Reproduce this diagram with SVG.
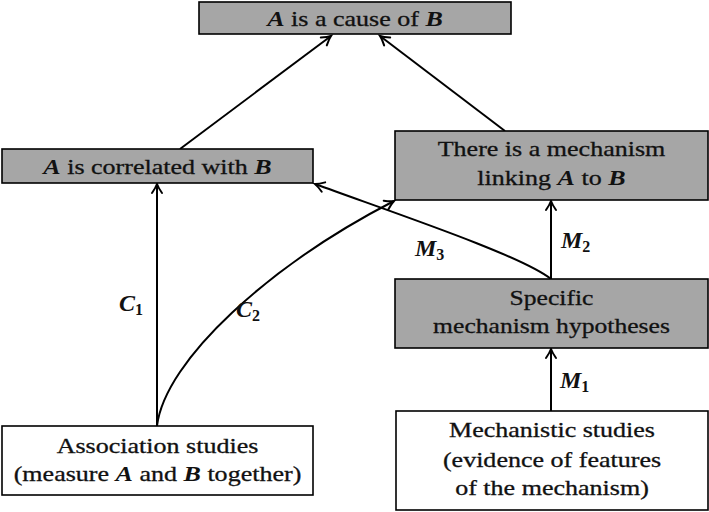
<svg xmlns="http://www.w3.org/2000/svg" width="709" height="512" viewBox="0 0 709 512">
<defs>
<style>
.box{stroke:#000;stroke-width:1.6}
.g{fill:#a6a6a6}
.w{fill:#fff}
.t{font-family:'Liberation Serif','Tinos','DejaVu Serif',serif;font-size:21px;font-weight:normal;font-style:normal;fill:#111;stroke:#111;stroke-width:0.3;text-anchor:middle}
.m{font-weight:bold;font-style:italic;stroke-width:0}
.lab{font-family:'Liberation Serif','Tinos','DejaVu Serif',serif;font-size:24px;font-weight:bold;font-style:italic;fill:#111}
.sub{font-size:16px;font-style:normal;font-weight:bold}
.edge{fill:none;stroke:#000;stroke-width:2;marker-end:url(#arr)}
</style>
<marker id="arr" markerUnits="userSpaceOnUse" markerWidth="14" markerHeight="14" refX="0" refY="0" orient="auto" overflow="visible">
<path d="M-9,-5 Q-3.5,-1.2 0,0 Q-3.5,1.2 -9,5" fill="none" stroke="#000" stroke-width="2" stroke-linecap="round"/>
</marker>
</defs>
<rect width="709" height="512" fill="#fff"/>

<g id="connectors">
<path class="edge" d="M180,149 L331,36"/>
<path class="edge" d="M505,131 L380,36"/>
<path class="edge" d="M157,426 L157,184"/>
<path class="edge" d="M157,426 C165,360 270,265 394,201"/>
<path class="edge" d="M551,279 C520,255 400,215 315,184"/>
<path class="edge" d="M551,279 L551,201"/>
<path class="edge" d="M551,411 L551,349"/>
<text class="lab" x="119" y="311">C<tspan class="sub" dy="4">1</tspan></text>
<text class="lab" x="236" y="317">C<tspan class="sub" dy="4">2</tspan></text>
<text class="lab" x="415" y="256">M<tspan class="sub" dy="4">3</tspan></text>
<text class="lab" x="561" y="248">M<tspan class="sub" dy="4">2</tspan></text>
<text class="lab" x="560" y="388">M<tspan class="sub" dy="4">1</tspan></text>
</g>

<g id="cause">
<rect class="box g" x="199" y="2" width="312" height="32"/>
<g transform="translate(355,26) scale(1.24,1)"><text class="t" x="0" y="0"><tspan class="m">A</tspan> is a cause of <tspan class="m">B</tspan></text></g>
</g>

<g id="correlated">
<rect class="box g" x="2" y="149" width="311" height="34"/>
<g transform="translate(157.5,174) scale(1.24,1)"><text class="t" x="0" y="0"><tspan class="m">A</tspan> is correlated with <tspan class="m">B</tspan></text></g>
</g>

<g id="mechanism">
<rect class="box g" x="395" y="131" width="313" height="69"/>
<g transform="translate(551.5,0) scale(1.24,1)"><text class="t" x="0" y="156">There is a mechanism</text><text class="t" x="0" y="185">linking <tspan class="m">A</tspan> to <tspan class="m">B</tspan></text></g>
</g>

<g id="hypotheses">
<rect class="box g" x="395" y="279" width="313" height="69"/>
<g transform="translate(551.5,0) scale(1.22,1)"><text class="t" x="0" y="305">Specific</text><text class="t" x="0" y="333">mechanism hypotheses</text></g>
</g>

<g id="association">
<rect class="box w" x="2" y="426" width="311" height="69"/>
<g transform="translate(157.5,0) scale(1.24,1)"><text class="t" x="0" y="453">Association studies</text><text class="t" x="0" y="481">(measure <tspan class="m">A</tspan> and <tspan class="m">B</tspan> together)</text></g>
</g>

<g id="mechanistic">
<rect class="box w" x="396" y="411" width="312" height="99"/>
<g transform="translate(552,0) scale(1.24,1)"><text class="t" x="0" y="437">Mechanistic studies</text><text class="t" x="0" y="467">(evidence of features</text><text class="t" x="0" y="495">of the mechanism)</text></g>
</g>
</svg>
